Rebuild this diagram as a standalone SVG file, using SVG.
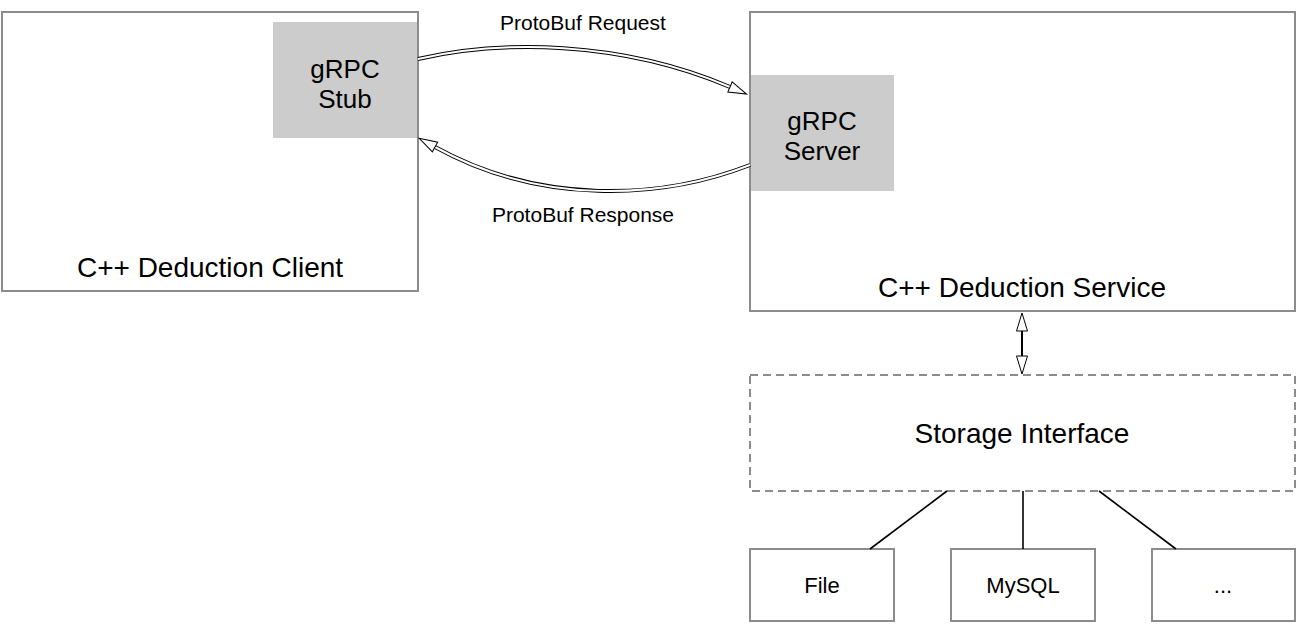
<svg xmlns="http://www.w3.org/2000/svg" width="1297" height="624" viewBox="0 0 1297 624">
<style>
.box{fill:#ffffff;stroke:#8c8c8c;stroke-width:2}
.dash{fill:#ffffff;stroke:#8c8c8c;stroke-width:2;stroke-dasharray:8 5}
.grey{fill:#cccccc;stroke:none}
.t{font-family:"Liberation Sans",Arial,Helvetica,sans-serif;fill:#000000;text-anchor:middle}
.big{font-size:28px}
.mid{font-size:26px}
.sm{font-size:21px}
.bk{font-size:22px}
.outer{fill:none;stroke:#000000;stroke-width:4}
.inner{fill:none;stroke:#ffffff;stroke-width:2}
.line{fill:none;stroke:#000000;stroke-width:1.6}
</style>
<defs>
<marker id="tri" markerUnits="userSpaceOnUse" viewBox="-1 -7 22 14" markerWidth="22" markerHeight="14" refX="0" refY="0" orient="auto-start-reverse" overflow="visible">
<path d="M0,-5.5 L18,0 L0,5.5 Z" fill="#ffffff" stroke="#000000" stroke-width="1"/>
</marker>
</defs>
<rect width="1297" height="624" fill="#ffffff"/>
<g id="client">
<rect class="box" x="2" y="12" width="416" height="279"/>
<text class="t big" x="210" y="277">C++ Deduction Client</text>
</g>
<g id="stub">
<rect class="grey" x="273" y="22" width="144" height="116"/>
<text class="t mid" x="345" y="78">gRPC</text>
<text class="t mid" x="345" y="108">Stub</text>
</g>
<g id="service">
<rect class="box" x="750" y="12" width="545" height="299"/>
<text class="t big" x="1022" y="297">C++ Deduction Service</text>
</g>
<g id="server">
<rect class="grey" x="751" y="75" width="143" height="116"/>
<text class="t mid" x="822" y="130">gRPC</text>
<text class="t mid" x="822" y="160">Server</text>
</g>
<g id="storage">
<rect class="dash" x="750" y="375" width="545" height="116"/>
<text class="t big" x="1022" y="443">Storage Interface</text>
</g>
<g id="file">
<rect class="box" x="750" y="549" width="144" height="72"/>
<text class="t bk" x="822" y="593">File</text>
</g>
<g id="mysql">
<rect class="box" x="951" y="549" width="144" height="72"/>
<text class="t bk" x="1023" y="593">MySQL</text>
</g>
<g id="other">
<rect class="box" x="1152" y="549" width="143" height="72"/>
<text class="t bk" x="1223" y="593">...</text>
</g>
<g id="connectors">
<path class="outer" d="M418,59 C500,40 620,40 730,87"/>
<path class="inner" d="M418,59 C500,40 620,40 730,87"/>
<path fill="none" stroke="none" d="M418,59 C500,40 620,40 730,87" marker-end="url(#tri)"/>
<text class="t sm" x="583" y="30">ProtoBuf Request</text>
<path class="outer" d="M750,165 C660,200 540,205 435,147"/>
<path class="inner" d="M750,165 C660,200 540,205 435,147"/>
<path fill="none" stroke="none" d="M750,165 C660,200 540,205 435,147" marker-end="url(#tri)"/>
<text class="t sm" x="583" y="222">ProtoBuf Response</text>
<path fill="none" stroke="#000000" stroke-width="2" d="M1022,331 L1022,356" marker-start="url(#tri)" marker-end="url(#tri)"/>
<path class="line" d="M947,491 L870,549"/>
<path class="line" d="M1023,491 L1023,549"/>
<path class="line" d="M1099,491 L1176,549"/>
</g>
</svg>
